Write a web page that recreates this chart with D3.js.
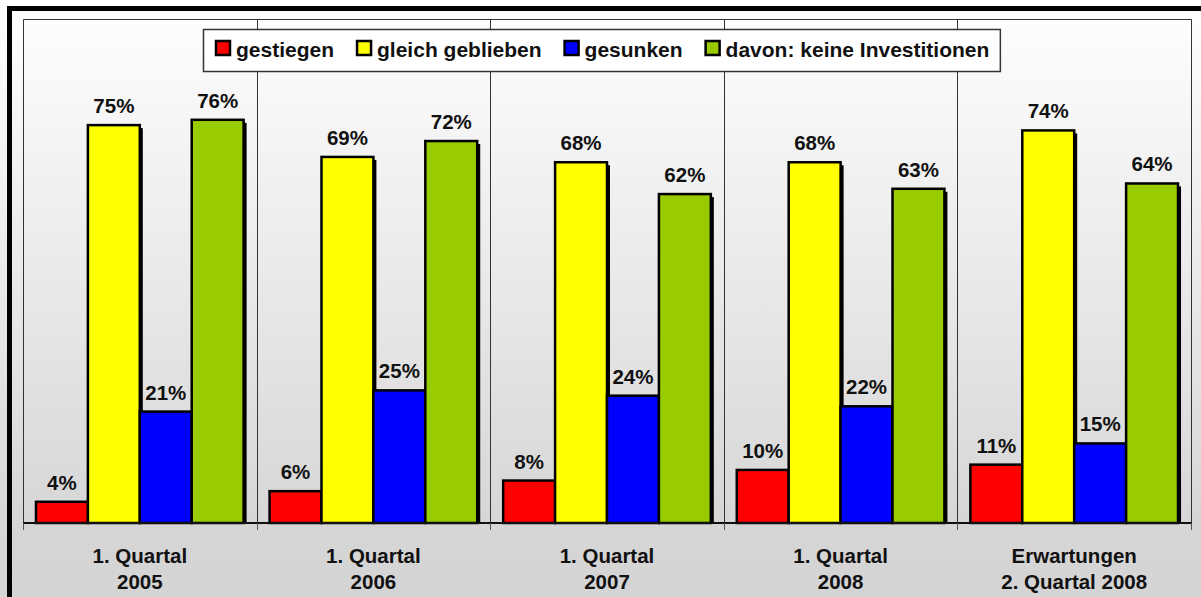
<!DOCTYPE html>
<html>
  <head>
    <meta charset="utf-8">
    <script src="https://d3js.org/d3.v7.min.js"></script>
    <style>
      body { margin: 0; background: #fff; }
      text { font-family: "Liberation Sans", Arial, sans-serif; font-weight: bold; fill: #111; }
    </style>
  </head>
  <body>
    <div id="vis"></div>
    <script>
      // data
      var categories = [["1. Quartal", "2005"], ["1. Quartal", "2006"], ["1. Quartal", "2007"],
                        ["1. Quartal", "2008"], ["Erwartungen", "2. Quartal 2008"]];
      var seriesNames = ["gestiegen", "gleich geblieben", "gesunken", "davon: keine Investitionen"];
      var gestiegen = [4, 6, 8, 10, 11];
      var gleich = [75, 69, 68, 68, 74];
      var gesunken = [21, 25, 24, 22, 15];
      var keineInv = [76, 72, 62, 63, 64];
      var colors = ["#ff0000", "#ffff00", "#0000ff", "#99cc00"];

      var W = 1201, H = 597;
      var plotL = 23, plotR = 1191, plotT = 19, plotB = 523;
      var fs = "20.5px";

      var svg = d3.select("#vis").append("svg")
        .attr("width", W).attr("height", H);

      var grad = svg.append("defs").append("linearGradient")
        .attr("id", "bg").attr("x1", 0).attr("y1", 0).attr("x2", 0).attr("y2", 1);
      grad.append("stop").attr("offset", "0%").attr("stop-color", "#ffffff");
      grad.append("stop").attr("offset", "88%").attr("stop-color", "#d6d6d6");
      grad.append("stop").attr("offset", "100%").attr("stop-color", "#d4d4d4");

      svg.append("rect").attr("x", 0).attr("y", 0).attr("width", W).attr("height", H)
        .attr("fill", "url(#bg)");

      var x0 = d3.scaleBand().domain(d3.range(categories.length)).range([plotL, plotR]).padding(0);
      var x1 = d3.scaleBand().domain(d3.range(4)).range([0, x0.bandwidth()])
        .paddingInner(0).paddingOuter(0.25);
      var y = d3.scaleLinear().domain([0, 95]).range([plotB, plotT]);

      // plot frame + separators
      svg.append("path")
        .attr("d", "M" + (plotL + 0.5) + "," + plotB + "V" + (plotT + 0.5) + "H" + (plotR + 0.5) + "V" + plotB)
        .attr("fill", "none").attr("stroke", "#333").attr("stroke-width", 1);
      svg.selectAll(".sep").data(d3.range(1, categories.length)).enter().append("line")
        .attr("x1", function(i){ return Math.round(x0(i)) + 0.5; })
        .attr("x2", function(i){ return Math.round(x0(i)) + 0.5; })
        .attr("y1", plotT).attr("y2", plotB)
        .attr("stroke", "#333").attr("stroke-width", 1);

      var series = [gestiegen, gleich, gesunken, keineInv];
      var bars = [];
      categories.forEach(function(c, i){
        series.forEach(function(s, j){
          bars.push({cat: i, s: j, v: s[i]});
        });
      });

      // shadows
      svg.selectAll(".shadow").data(bars).enter().append("rect")
        .attr("x", function(d){ return x0(d.cat) + x1(d.s) + 3; })
        .attr("y", function(d){ return y(d.v) + 3; })
        .attr("width", x1.bandwidth())
        .attr("height", function(d){ return plotB - y(d.v) - 3; })
        .attr("fill", "#000");

      svg.selectAll(".bar").data(bars).enter().append("rect")
        .attr("x", function(d){ return x0(d.cat) + x1(d.s); })
        .attr("y", function(d){ return y(d.v); })
        .attr("width", x1.bandwidth())
        .attr("height", function(d){ return plotB - y(d.v); })
        .attr("fill", function(d){ return colors[d.s]; })
        .attr("stroke", "#000").attr("stroke-width", 2.5);

      svg.selectAll(".val").data(bars).enter().append("text")
        .attr("x", function(d){ return x0(d.cat) + x1(d.s) + x1.bandwidth() / 2; })
        .attr("y", function(d){ return y(d.v) - 12; })
        .attr("text-anchor", "middle")
        .style("font-size", fs)
        .text(function(d){ return d.v + "%"; });

      // x axis
      svg.append("line").attr("x1", plotL).attr("x2", plotR + 1).attr("y1", plotB).attr("y2", plotB)
        .attr("stroke", "#111").attr("stroke-width", 2);
      svg.selectAll(".tick2").data(d3.range(categories.length + 1)).enter().append("line")
        .attr("x1", function(i){ return Math.round(i < categories.length ? x0(i) : plotR) + 0.5; })
        .attr("x2", function(i){ return Math.round(i < categories.length ? x0(i) : plotR) + 0.5; })
        .attr("y1", plotB).attr("y2", plotB + 7)
        .attr("stroke", "#555").attr("stroke-width", 1);

      var cat = svg.selectAll(".cat").data(categories).enter().append("text")
        .attr("text-anchor", "middle")
        .style("font-size", fs)
        .attr("x", function(d, i){ return x0(i) + x0.bandwidth() / 2; })
        .attr("y", 563);
      cat.append("tspan").attr("x", function(d, i){ return x0(i) + x0.bandwidth() / 2; })
        .text(function(d){ return d[0]; });
      cat.append("tspan").attr("x", function(d, i){ return x0(i) + x0.bandwidth() / 2; })
        .attr("dy", 26).text(function(d){ return d[1]; });

      // legend
      var lg = svg.append("g");
      var lgBox = lg.append("rect").attr("x", 203.5).attr("y", 29.5).attr("height", 42)
        .attr("fill", "#fff").attr("stroke", "#333").attr("stroke-width", 1.5);
      var lx = 216;
      seriesNames.forEach(function(n, j){
        lg.append("rect").attr("x", lx).attr("y", 41).attr("width", 14).attr("height", 14)
          .attr("fill", colors[j]).attr("stroke", "#000").attr("stroke-width", 2.5);
        var t = lg.append("text").attr("x", lx + 20).attr("y", 57)
          .style("font-size", "21px").text(n);
        lx += 20 + t.node().getComputedTextLength() + 23;
      });
      lgBox.attr("width", lx - 23 + 11 - 203.5);

      // outer frame
      svg.append("rect").attr("x", 9.5).attr("y", 8.5).attr("width", W + 20).attr("height", H + 20)
        .attr("fill", "none").attr("stroke", "#000").attr("stroke-width", 5);
    </script>
  </body>
</html>
